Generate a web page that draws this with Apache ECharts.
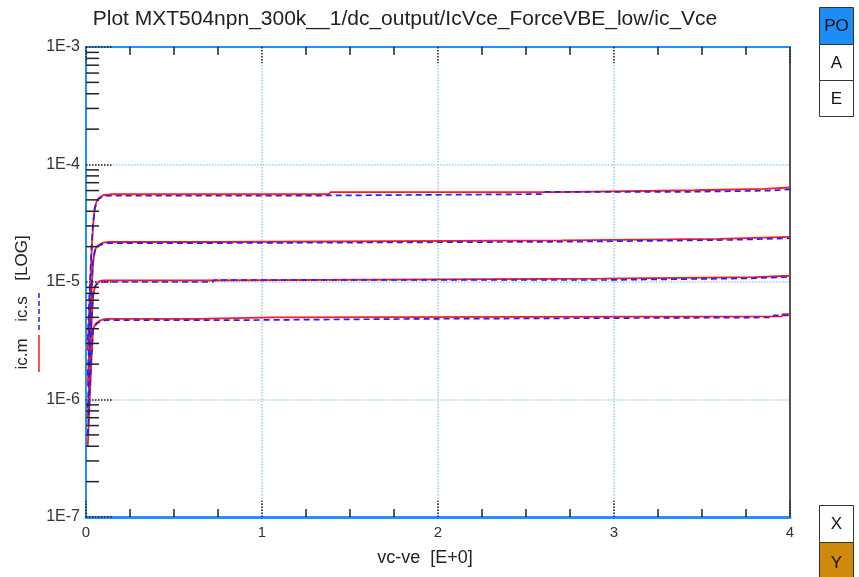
<!DOCTYPE html>
<html>
<head>
<meta charset="utf-8">
<script src="https://cdn.jsdelivr.net/npm/echarts@6/dist/echarts.min.js"></script>
<style>
  html, body { margin: 0; padding: 0; background: #ffffff; }
  #chart { width: 859px; height: 577px; }
</style>
</head>
<body>
<div id="chart"></div>
<script>
// Ic vs Vce, forced VBE (low), measured (ic.m) vs simulated (ic.s)
const FONT = '"Liberation Sans", Arial, Helvetica, sans-serif';

const titleText = 'Plot MXT504npn_300k__1/dc_output/IcVce_ForceVBE_low/ic_Vce';
const xName = 'vc-ve  [E+0]';
const xTickValues = [0, 1, 2, 3, 4];
const yDecadeLabels = ['1E-7', '1E-6', '1E-5', '1E-4', '1E-3'];
const yMinorMantissa = [2, 3, 4, 5, 6, 7, 8, 9];
const yMinorDecades = [1e-7, 1e-6, 1e-5, 1e-4];

// measured curves  [Vce, Ic]
const icm1 = [[0.01, 2.6e-6], [0.02, 7e-6], [0.03, 1.6e-5], [0.04, 3.0e-5], [0.05, 4.35e-5], [0.06, 4.8e-5], [0.07, 5.15e-5], [0.08, 5.35e-5], [0.1, 5.5e-5], [0.14, 5.58e-5],
  [1.38, 5.58e-5], [1.39, 5.81e-5], [2.67, 5.81e-5], [2.68, 6.04e-5], [3.46, 6.04e-5], [3.47, 6.2e-5], [3.86, 6.2e-5], [3.87, 6.37e-5], [4.0, 6.37e-5]];
const icm2 = [[0.01, 1.3e-6], [0.02, 3.2e-6], [0.03, 7.5e-6], [0.04, 1.45e-5], [0.05, 1.85e-5], [0.06, 2.0e-5], [0.08, 2.1e-5], [0.1, 2.16e-5], [0.13, 2.19e-5],
  [0.72, 2.19e-5], [0.73, 2.26e-5], [2.7, 2.26e-5], [2.71, 2.33e-5], [3.6, 2.33e-5], [3.61, 2.42e-5], [4.0, 2.42e-5]];
const icm3 = [[0.01, 7e-7], [0.02, 1.7e-6], [0.03, 4e-6], [0.04, 7.5e-6], [0.05, 9.1e-6], [0.06, 9.7e-6], [0.08, 1.02e-5], [0.1, 1.03e-5],
  [0.63, 1.03e-5], [0.64, 1.067e-5], [2.93, 1.067e-5], [2.94, 1.10e-5], [3.8, 1.10e-5], [3.81, 1.13e-5], [4.0, 1.13e-5]];
const icm4 = [[0.01, 4e-7], [0.02, 9e-7], [0.03, 2e-6], [0.04, 4.0e-6], [0.05, 4.3e-6], [0.06, 4.5e-6], [0.08, 4.7e-6], [0.1, 4.8e-6], [0.12, 4.86e-6],
  [0.63, 4.86e-6], [0.64, 4.99e-6], [1.07, 4.99e-6], [1.08, 5.09e-6], [3.95, 5.09e-6], [3.96, 5.33e-6], [4.0, 5.33e-6]];

// simulated curves  [Vce, Ic]
const ics1 = [[0.01, 3.2e-6], [0.02, 8e-6], [0.03, 1.8e-5], [0.04, 3.2e-5], [0.05, 4.2e-5], [0.06, 4.7e-5], [0.07, 5.05e-5], [0.08, 5.25e-5], [0.1, 5.38e-5], [0.14, 5.42e-5],
  [1.15, 5.42e-5], [1.16, 5.6e-5], [2.6, 5.6e-5], [2.61, 5.85e-5], [3.42, 5.85e-5], [3.43, 6.0e-5], [3.9, 6.0e-5], [3.91, 6.15e-5], [4.0, 6.15e-5]];
const ics2 = [[0.01, 1.6e-6], [0.02, 3.8e-6], [0.03, 8.5e-6], [0.04, 1.5e-5], [0.05, 1.82e-5], [0.06, 1.97e-5], [0.08, 2.06e-5], [0.1, 2.11e-5], [0.13, 2.14e-5],
  [0.6, 2.14e-5], [0.61, 2.2e-5], [2.72, 2.2e-5], [2.73, 2.28e-5], [3.66, 2.28e-5], [3.67, 2.36e-5], [4.0, 2.36e-5]];
const ics3 = [[0.01, 8.5e-7], [0.02, 2e-6], [0.03, 4.5e-6], [0.04, 7.8e-6], [0.05, 9.0e-6], [0.06, 9.5e-6], [0.08, 9.9e-6], [0.1, 1.0e-5],
  [0.72, 1.0e-5], [0.73, 1.04e-5], [2.95, 1.04e-5], [2.96, 1.075e-5], [3.78, 1.075e-5], [3.79, 1.105e-5], [4.0, 1.105e-5]];
const ics4 = [[0.01, 5e-7], [0.02, 1.1e-6], [0.03, 2.3e-6], [0.04, 3.9e-6], [0.05, 4.2e-6], [0.06, 4.4e-6], [0.08, 4.6e-6], [0.1, 4.7e-6], [0.12, 4.74e-6],
  [0.9, 4.74e-6], [0.91, 4.86e-6], [1.95, 4.86e-6], [1.96, 4.99e-6], [3.9, 4.99e-6], [3.91, 5.2e-6], [4.0, 5.2e-6]];

const measured = [icm1, icm2, icm3, icm4];
const simulated = [ics1, ics2, ics3, ics4];

const RED = '#ff1a1a';
const BLUE = '#1f1fff';
const AXIS_BLUE = '#1e90ff';
const GRID_BLUE = '#93d0f5';
const TICK = '#222222';

const yMinorValues = [];
yMinorDecades.forEach(d => yMinorMantissa.forEach(m => yMinorValues.push([0, d * m])));

const series = [];
measured.forEach(d => {
  series.push({
    name: 'ic.m', type: 'line', data: d, showSymbol: false, symbol: 'none',
    lineStyle: { color: RED, width: 1.8 }, z: 3, animation: false, silent: true
  });
});
simulated.forEach(d => {
  series.push({
    name: 'ic.s', type: 'line', data: d, showSymbol: false, symbol: 'none',
    lineStyle: { color: BLUE, width: 1.7, type: [6, 4] }, z: 4, animation: false, silent: true
  });
});
// minor decade ticks on the left log axis
series.push({
  type: 'custom', xAxisIndex: 0, yAxisIndex: 0, silent: true, animation: false, z: 5, clip: false,
  data: yMinorValues,
  renderItem: function (params, api) {
    const p = api.coord([api.value(0), api.value(1)]);
    return {
      type: 'line',
      shape: { x1: p[0], y1: p[1], x2: p[0] + 13, y2: p[1] },
      style: { stroke: TICK, lineWidth: 1.5 }
    };
  }
});

const boxes = [
  { y: 7, h: 37, label: 'PO', fill: '#1e8cf5' },
  { y: 44, h: 36, label: 'A', fill: '#ffffff' },
  { y: 80, h: 36, label: 'E', fill: '#ffffff' },
  { y: 505, h: 37, label: 'X', fill: '#ffffff' },
  { y: 542, h: 40, label: 'Y', fill: '#cf8a0c' }
];
const graphic = [
  {
    type: 'text', x: 405, y: 19,
    style: { text: titleText, font: '21px ' + FONT, fill: '#222', textAlign: 'center', textVerticalAlign: 'middle' }
  },
  {
    type: 'text', x: 22, y: 258, rotation: Math.PI / 2,
    style: { text: '[LOG]', font: '17px ' + FONT, fill: '#222', textAlign: 'center', textVerticalAlign: 'middle' }
  },
  {
    type: 'text', x: 22, y: 309, rotation: Math.PI / 2,
    style: { text: 'ic.s', font: '17px ' + FONT, fill: '#222', textAlign: 'center', textVerticalAlign: 'middle' }
  },
  {
    type: 'text', x: 22, y: 354, rotation: Math.PI / 2,
    style: { text: 'ic.m', font: '17px ' + FONT, fill: '#222', textAlign: 'center', textVerticalAlign: 'middle' }
  },
  {
    type: 'line', shape: { x1: 39, y1: 293, x2: 39, y2: 331 },
    style: { stroke: BLUE, lineWidth: 1.5, lineDash: [5, 3] }
  },
  {
    type: 'line', shape: { x1: 39, y1: 335, x2: 39, y2: 372 },
    style: { stroke: RED, lineWidth: 1.5 }
  }
];
boxes.forEach(b => {
  graphic.push({
    type: 'rect', shape: { x: 819.5, y: b.y + 0.5, width: 34, height: b.h },
    style: { fill: b.fill, stroke: '#333', lineWidth: 1 }
  });
  graphic.push({
    type: 'text', x: 836.5, y: b.y + b.h / 2 + 1,
    style: { text: b.label, font: '17px ' + FONT, fill: '#111', textAlign: 'center', textVerticalAlign: 'middle' }
  });
});

const chart = echarts.init(document.getElementById('chart'), null, { renderer: 'canvas' });
chart.setOption({
  animation: false,
  backgroundColor: '#ffffff',
  grid: { left: 86, right: 69, top: 47, bottom: 60, containLabel: false },
  xAxis: [
    {
      type: 'value', position: 'bottom', min: 0, max: 4, interval: 1,
      name: xName, nameLocation: 'middle', nameGap: 32,
      nameTextStyle: { fontFamily: FONT, fontSize: 18, color: '#222', padding: [0, 26, 0, 0] },
      axisLine: { onZero: false, lineStyle: { color: AXIS_BLUE, width: 3 } },
      axisTick: { show: true, inside: true, length: 16, lineStyle: { color: TICK, width: 1.5, type: 'dotted' } },
      minorTick: { show: true, splitNumber: 4, length: 8, lineStyle: { color: TICK, width: 1.5 } },
      splitLine: { show: true, lineStyle: { color: GRID_BLUE, width: 1.5, type: 'dotted' } },
      axisLabel: {
        fontFamily: FONT, fontSize: 15, color: '#333', margin: 8,
        formatter: v => String(xTickValues[Math.round(v)])
      }
    },
    {
      type: 'value', position: 'top', min: 0, max: 4, interval: 1,
      axisLine: { onZero: false, lineStyle: { color: AXIS_BLUE, width: 2 } },
      axisTick: { show: true, inside: true, length: 16, lineStyle: { color: TICK, width: 1.5, type: 'dotted' } },
      minorTick: { show: true, splitNumber: 4, length: 8, lineStyle: { color: TICK, width: 1.5 } },
      splitLine: { show: false },
      axisLabel: { show: false }
    }
  ],
  yAxis: [
    {
      type: 'log', logBase: 10, min: 1e-7, max: 1e-3, position: 'left',
      axisLine: { onZero: false, lineStyle: { color: AXIS_BLUE, width: 2 } },
      axisTick: { show: true, inside: true, length: 26, lineStyle: { color: TICK, width: 1.5, type: 'dotted' } },
      splitLine: { show: true, lineStyle: { color: GRID_BLUE, width: 1.5, type: 'dotted' } },
      axisLabel: {
        fontFamily: FONT, fontSize: 16, color: '#333', margin: 6,
        formatter: v => yDecadeLabels[Math.round(Math.log10(v)) + 7]
      }
    },
    {
      type: 'log', logBase: 10, min: 1e-7, max: 1e-3, position: 'right',
      axisLine: { onZero: false, lineStyle: { color: '#555555', width: 2 } },
      axisTick: { show: false }, splitLine: { show: false }, axisLabel: { show: false }
    }
  ],
  graphic: graphic,
  series: series
});
</script>
</body>
</html>
